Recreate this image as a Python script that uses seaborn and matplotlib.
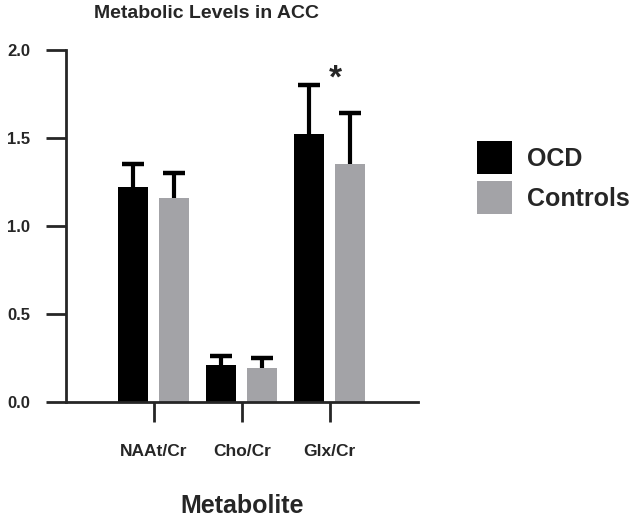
import pandas as pd
import matplotlib
matplotlib.use("Agg")
import matplotlib.pyplot as plt
import seaborn as sns

# values
metabolites = ["NAAt/Cr", "Cho/Cr", "Glx/Cr"]
groups = ["OCD", "Controls"]
ocd_mean = [1.22, 0.21, 1.52]
ocd_sd = [0.13, 0.05, 0.28]
ctrl_mean = [1.16, 0.19, 1.35]
ctrl_sd = [0.14, 0.06, 0.29]
yticks = [0.0, 0.5, 1.0, 1.5, 2.0]
star_x, star_y = 2.065, 1.835  # significance mark over Glx/Cr

colors = {"OCD": "#000000", "Controls": "#a3a3a7"}

df = pd.DataFrame({
    "Metabolite": metabolites * 2,
    "group": ["OCD"] * 3 + ["Controls"] * 3,
    "value": ocd_mean + ctrl_mean,
    "sd": ocd_sd + ctrl_sd,
})

sns.set_style("ticks")
plt.rcParams["font.family"] = ["Liberation Sans", "DejaVu Sans"]
plt.rcParams["font.weight"] = "bold"

fig = plt.figure(figsize=(6.38, 5.21), dpi=100)
ax = fig.add_axes([0.103, 0.229, 0.552, 0.675])

sns.barplot(data=df, x="Metabolite", y="value", hue="group",
            order=metabolites, hue_order=groups, palette=colors,
            width=0.93, gap=0.27, errorbar=None, saturation=1,
            linewidth=0, ax=ax, zorder=2)

# error bars sit behind the bars, so only the upper half shows
for container, g in zip(ax.containers, groups):
    sub = df[df["group"] == g].set_index("Metabolite").loc[metabolites]
    xs = [p.get_x() + p.get_width() / 2 for p in container.patches]
    ax.errorbar(xs, sub["value"], yerr=sub["sd"], fmt="none",
                ecolor="black", elinewidth=3, capsize=8, capthick=3.2, zorder=1)

ax.text(star_x, star_y, "*", ha="center", va="center", fontsize=24,
        fontweight="bold")

ax.set_xlim(-1, 3)
ax.set_ylim(0, 2.0)
ax.set_yticks(yticks)
ax.set_yticklabels([f"{t:.1f}" for t in yticks], fontsize=12, fontweight="bold")
ax.tick_params(axis="both", length=14.5, width=2, direction="out")
ax.tick_params(axis="y", pad=11)
ax.tick_params(axis="x", pad=16, labelsize=12.5)
for lbl in ax.get_xticklabels():
    lbl.set_fontweight("bold")
for s in ["left", "bottom"]:
    ax.spines[s].set_linewidth(2)
sns.despine(ax=ax)

ax.set_ylabel("")
ax.set_xlabel("Metabolite", fontsize=18, fontweight="bold", labelpad=25)

fig.text(206 / 638, 1 - 14 / 521, "Metabolic Levels in ACC", ha="center",
         va="center", fontsize=14, fontweight="bold")

ax.legend(loc="upper left", bbox_to_anchor=(1.14, 0.77), frameon=False,
          prop={"size": 18, "weight": "bold"}, handlelength=1.4,
          handleheight=1.65, handletextpad=0.6, labelspacing=0.3,
          borderaxespad=0)

fig.savefig("out.png", dpi=100)
